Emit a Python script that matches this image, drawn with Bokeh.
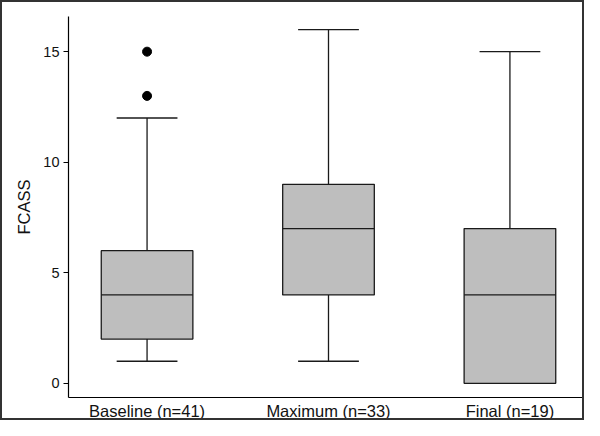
from bokeh.plotting import figure
from bokeh.models import FixedTicker, Range1d, ColumnDataSource
from bokeh.embed import file_html
from bokeh.resources import INLINE

# Data
categories = ["Baseline (n=41)", "Maximum (n=33)", "Final (n=19)"]
whisker_low = [1, 1, 0]
q1 = [2, 4, 0]
median = [4, 7, 4]
q3 = [6, 9, 7]
whisker_high = [12, 16, 15]
outlier_cat = ["Baseline (n=41)", "Baseline (n=41)"]
outlier_val = [13, 15]
y_ticks = [0, 5, 10, 15]

FONT = "Liberation Sans"
pos = list(range(1, len(categories) + 1))
box_w = 0.505
cap_w = 0.335

p = figure(width=584, height=420, output_backend="svg", toolbar_location=None,
           x_range=Range1d(0.567, 3.411), y_range=Range1d(-0.64, 16.59),
           min_border_left=66, min_border_right=2, min_border_top=14, min_border_bottom=25)
p.styles = {"border": "2px solid #333333"}

p.xgrid.visible = False
p.ygrid.visible = False
p.outline_line_color = None

src = ColumnDataSource(dict(
    x=pos, lo=whisker_low, q1=q1, med=median, q3=q3, hi=whisker_high,
    xl=[x - box_w / 2 for x in pos], xr=[x + box_w / 2 for x in pos],
    cl=[x - cap_w / 2 for x in pos], cr=[x + cap_w / 2 for x in pos],
))

LC = "#1a1a1a"
# whiskers
p.segment(x0="x", y0="q3", x1="x", y1="hi", source=src, line_color=LC, line_width=1.3)
p.segment(x0="x", y0="lo", x1="x", y1="q1", source=src, line_color=LC, line_width=1.3)
p.segment(x0="cl", y0="hi", x1="cr", y1="hi", source=src, line_color=LC, line_width=1.3)
p.segment(x0="cl", y0="lo", x1="cr", y1="lo", source=src, line_color=LC, line_width=1.3)
# boxes
p.vbar(x="x", width=box_w, bottom="q1", top="q3", source=src,
       fill_color="#bebebe", line_color=LC, line_width=1.3)
# medians
p.segment(x0="xl", y0="med", x1="xr", y1="med", source=src, line_color=LC, line_width=1.3)
# outliers
ox = [pos[categories.index(c)] for c in outlier_cat]
p.scatter(ox, outlier_val, size=9, color="black")

# axes
p.xaxis.ticker = FixedTicker(ticks=pos)
p.xaxis.major_label_overrides = {x: c for x, c in zip(pos, categories)}
p.xaxis.major_tick_out = 0
p.xaxis.major_tick_in = 0
p.xaxis.minor_tick_line_color = None
p.xaxis.major_label_standoff = 4
p.xaxis.major_label_text_font = FONT
p.xaxis.major_label_text_font_size = "16.5px"
p.xaxis.major_label_text_color = "#111111"
p.xaxis.axis_line_color = "black"
p.xaxis.axis_line_width = 1.2

p.yaxis.ticker = FixedTicker(ticks=y_ticks)
p.yaxis.major_tick_out = 5
p.yaxis.major_tick_in = 0
p.yaxis.minor_tick_line_color = None
p.yaxis.major_tick_line_color = "black"
p.yaxis.major_label_standoff = 4
p.yaxis.major_label_text_font = FONT
p.yaxis.major_label_text_font_size = "14.5px"
p.yaxis.major_label_text_color = "#111111"
p.yaxis.axis_line_color = "black"
p.yaxis.axis_line_width = 1.2
p.yaxis.axis_label = "FCASS"
p.yaxis.axis_label_text_font = FONT
p.yaxis.axis_label_text_font_size = "16.5px"
p.yaxis.axis_label_text_font_style = "normal"
p.yaxis.axis_label_text_color = "#111111"
p.yaxis.axis_label_standoff = 7

open("out.html", "w").write(file_html(p, INLINE))
